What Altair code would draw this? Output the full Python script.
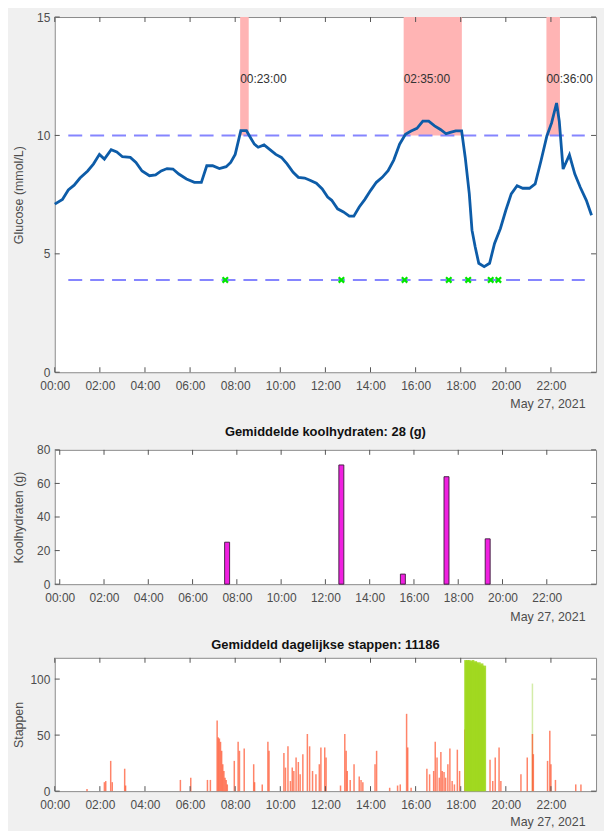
import altair as alt
import pandas as pd

# ---------------- data ----------------
glucose_hours = [0.00, 0.34, 0.60, 0.86, 1.12, 1.46, 1.72, 1.98, 2.20, 2.50,
                 2.75, 3.00, 3.35, 3.60, 3.87, 4.20, 4.47, 4.72, 4.98, 5.24,
                 5.50, 5.84, 6.19, 6.50, 6.74, 7.00, 7.30, 7.60, 7.80, 8.00,
                 8.25, 8.50, 8.68, 8.85, 9.02, 9.28, 9.54, 9.80, 10.05, 10.30,
                 10.57, 10.80, 11.08, 11.34, 11.60, 11.86, 12.10, 12.28, 12.54, 12.80,
                 13.06, 13.26, 13.50, 13.75, 14.00, 14.26, 14.52, 14.78, 15.03, 15.29,
                 15.55, 15.80, 16.06, 16.32, 16.58, 16.84, 17.10, 17.35, 17.50, 17.78,
                 18.04, 18.20, 18.38, 18.50, 18.64, 18.80, 19.04, 19.28, 19.50, 19.76,
                 20.00, 20.24, 20.50, 20.75, 21.05, 21.30, 21.56, 21.82, 22.03, 22.25,
                 22.37, 22.54, 22.82, 23.06, 23.30, 23.57, 23.80]
glucose_values = [7.10, 7.30, 7.70, 7.90, 8.20, 8.50, 8.80, 9.20, 9.00, 9.40,
                  9.30, 9.10, 9.07, 8.86, 8.50, 8.30, 8.33, 8.50, 8.60, 8.58,
                  8.37, 8.16, 8.02, 8.02, 8.72, 8.72, 8.60, 8.68, 8.86, 9.20,
                  10.20, 10.20, 9.90, 9.63, 9.50, 9.60, 9.40, 9.20, 9.07, 8.80,
                  8.44, 8.23, 8.20, 8.10, 7.98, 7.74, 7.40, 7.26, 6.90, 6.77,
                  6.59, 6.59, 6.98, 7.30, 7.67, 8.02, 8.23, 8.51, 8.96, 9.63,
                  10.05, 10.19, 10.30, 10.60, 10.60, 10.40, 10.25, 10.07, 10.12, 10.19,
                  10.19, 9.07, 7.53, 6.00, 5.30, 4.60, 4.46, 4.60, 5.44, 6.07,
                  6.84, 7.53, 7.88, 7.77, 7.77, 7.95, 8.93, 9.98, 10.53, 11.37,
                  10.60, 8.58, 9.18, 8.37, 7.81, 7.26, 6.63]

high_span_start = [8.22, 15.47, 21.80]
high_span_end = [8.60, 18.05, 22.40]
high_span_label = ["00:23:00", "02:35:00", "00:36:00"]
high_limit = 10.0
glucose_top = 15.0
label_level = 12.4

thresholds = [10.0, 3.9]
threshold_from = 0.6
threshold_to = 23.5

meal_marker_hours = [7.56, 12.71, 15.51, 17.47, 18.33, 19.33, 19.67]
meal_marker_level = 3.9

carb_hours = [7.56, 12.72, 15.50, 17.47, 19.33]
carb_grams = [25, 71, 6, 64, 27]

steps_red_hours = [1.43, 2.20, 2.26, 2.48, 2.55, 3.10, 3.14, 5.57, 6.03, 6.77,
                   6.90, 7.20, 7.25, 7.30, 7.35, 7.40, 7.45, 7.50, 7.55, 7.60,
                   7.65, 7.96, 8.13, 8.19, 8.40, 8.82, 8.86, 9.20, 9.45, 9.50,
                   10.16, 10.23, 10.34, 10.45, 10.53, 10.60, 10.70, 10.80, 10.88, 11.00,
                   11.20, 11.30, 11.43, 11.58, 11.73, 11.80, 11.97, 12.03, 12.67, 12.86,
                   12.92, 12.97, 13.10, 13.27, 13.50, 13.58, 13.66, 14.20, 14.27, 14.85,
                   15.20, 15.32, 15.60, 15.65, 15.80, 16.50, 16.62, 16.80, 16.87, 16.95,
                   17.05, 17.12, 17.18, 17.26, 17.33, 17.43, 17.52, 17.62, 17.72, 17.85,
                   17.95, 18.18, 19.30, 19.42, 19.53, 19.70, 19.78, 20.67, 20.95, 21.18,
                   21.22, 21.85, 21.95, 22.00, 22.20, 23.10, 23.33]
steps_red_values = [2, 8, 9, 27, 8, 20, 5, 10, 12, 10,
                    10, 63, 48, 47, 44, 36, 24, 18, 12, 10,
                    6, 27, 44, 36, 38, 24, 8, 6, 44, 36,
                    34, 21, 40, 9, 21, 18, 30, 26, 15, 33,
                    51, 40, 18, 15, 24, 39, 39, 30, 5, 51,
                    36, 18, 10, 24, 13, 10, 8, 24, 36, 3,
                    5, 6, 69, 39, 3, 20, 15, 18, 44, 30,
                    12, 35, 18, 17, 12, 24, 38, 9, 6, 37,
                    18, 55, 28, 9, 30, 39, 9, 15, 30, 51,
                    33, 27, 54, 24, 10, 6, 6]

steps_green_hours = [18.22, 18.26, 18.30, 18.34, 18.38, 18.42, 18.46, 18.50, 18.54, 18.58,
                     18.62, 18.66, 18.70, 18.74, 18.78, 18.82, 18.86, 18.90, 18.94, 18.98,
                     19.02, 19.06]
steps_green_values = [117, 116, 117, 115, 117, 116, 114, 116, 117, 115,
                      113, 116, 115, 114, 112, 115, 113, 111, 114, 112,
                      110, 112]
steps_faint_hours = [21.18]
steps_faint_values = [96]

x_tick_hours = [0, 2, 4, 6, 8, 10, 12, 14, 16, 18, 20, 22]
glucose_ticks = [0, 5, 10, 15]
carb_ticks = [0, 20, 40, 60, 80]
steps_ticks = [0, 50, 100]

date_text = "May 27, 2021"
carb_title = "Gemiddelde koolhydraten: 28 (g)"
steps_title = "Gemiddeld dagelijkse stappen: 11186"

# ---------------- layout / style ----------------
W = 544
H1, H2, H3 = 357, 135, 134
FONT = "Liberation Sans"
GREY = "#4d4d4d"
TICK = "#555555"

XS = alt.Scale(domain=[0, 24], nice=False, zero=False)
label_expr = "(datum.value < 10 ? '0' : '') + datum.value + ':00'"


def x_axis(ty):
    return alt.Axis(values=x_tick_hours, labelExpr=label_expr, title=date_text,
                    titleX=W - 11, titleY=ty, titleAlign="right",
                    titleBaseline="middle", titleAnchor="end",
                    domain=False, ticks=False, grid=False, labelPadding=8,
                    labelFlush=False)


def y_axis(title, vals):
    return alt.Axis(values=vals, title=title, titleX=-36, titleBaseline="middle",
                    domain=False, ticks=False, grid=False, labelPadding=5)


def frame_ticks(H, ys, ytitle, yvals, ty):
    xt = alt.Chart(pd.DataFrame({"h": x_tick_hours}))
    yt = alt.Chart(pd.DataFrame({"v": yvals}))
    xe = alt.X("h:Q", scale=XS, axis=x_axis(ty))
    ye = alt.Y("v:Q", scale=ys, axis=y_axis(ytitle, yvals))
    bottom = xt.mark_rule(color=TICK, strokeWidth=1).encode(
        x=xe, y=alt.value(H), y2=alt.value(H - 5))
    top = xt.mark_rule(color=TICK, strokeWidth=1).encode(
        x=xe, y=alt.value(0), y2=alt.value(5))
    left = yt.mark_rule(color=TICK, strokeWidth=1).encode(
        y=ye, x=alt.value(0), x2=alt.value(5))
    right = yt.mark_rule(color=TICK, strokeWidth=1).encode(
        y=ye, x=alt.value(W), x2=alt.value(W - 5))
    return [bottom, top, left, right]


# ---------------- panel 1: glucose ----------------
TY1, TY2, TY3 = 31, 33, 31
YS1 = alt.Scale(domain=[0, 15], nice=False)
yt1 = "Glucose (mmol/L)"
X1 = lambda f: alt.X(f, scale=XS, axis=x_axis(TY1))
Y1 = lambda f: alt.Y(f, scale=YS1, axis=y_axis(yt1, glucose_ticks))

span_df = pd.DataFrame({"s": high_span_start, "e": high_span_end,
                        "lab": high_span_label,
                        "lo": [high_limit] * len(high_span_start),
                        "hi": [glucose_top] * len(high_span_start),
                        "ly": [label_level] * len(high_span_start)})
spans = alt.Chart(span_df).mark_rect(color="#ffb4b4").encode(
    x=X1("s:Q"), x2="e:Q", y=Y1("lo:Q"), y2="hi:Q")

thr_df = pd.DataFrame({"y": thresholds,
                       "a": [threshold_from] * len(thresholds),
                       "b": [threshold_to] * len(thresholds)})
thr = alt.Chart(thr_df).mark_rule(color="#8585ff", strokeWidth=2,
                                  strokeDash=[14, 8]).encode(
    x=X1("a:Q"), x2="b:Q", y=Y1("y:Q"))

gl_df = pd.DataFrame({"h": glucose_hours, "g": glucose_values})
line = alt.Chart(gl_df).mark_line(color="#0d5ca8", strokeWidth=2.8).encode(
    x=X1("h:Q"), y=Y1("g:Q"))

labels = alt.Chart(span_df).mark_text(align="left", baseline="middle",
                                      font=FONT, fontSize=12, color="#333333").encode(
    x=X1("s:Q"), y=Y1("ly:Q"), text="lab:N")

mk_df = pd.DataFrame({"h": meal_marker_hours,
                      "y": [meal_marker_level] * len(meal_marker_hours)})
markers = alt.Chart(mk_df).mark_point(
    shape="M-1,-1L1,1M-1,1L1,-1", size=30, filled=False,
    stroke="#00e600", strokeWidth=2.2, opacity=1).encode(
    x=X1("h:Q"), y=Y1("y:Q"))

p1 = alt.layer(spans, thr, line, labels, markers,
               *frame_ticks(H1, YS1, yt1, glucose_ticks, TY1)).properties(width=W, height=H1)

# ---------------- panel 2: carbs ----------------
YS2 = alt.Scale(domain=[0, 80], nice=False)
yt2 = "Koolhydraten (g)"
carb_df = pd.DataFrame({"h": carb_hours, "c": carb_grams})
bars = alt.Chart(carb_df).mark_bar(size=5, color="#f020e0", stroke="#3a1a3a",
                                   strokeWidth=0.9).encode(
    x=alt.X("h:Q", scale=XS, axis=x_axis(TY2)),
    y=alt.Y("c:Q", scale=YS2, axis=y_axis(yt2, carb_ticks)))
p2 = alt.layer(bars, *frame_ticks(H2, YS2, yt2, carb_ticks, TY2)).properties(
    width=W, height=H2, title=carb_title)

# ---------------- panel 3: steps ----------------
YS3 = alt.Scale(domain=[0, 119], nice=False)
yt3 = "Stappen"
red_df = pd.DataFrame({"h": steps_red_hours, "s": steps_red_values})
green_df = pd.DataFrame({"h": steps_green_hours, "s": steps_green_values})
faint_df = pd.DataFrame({"h": steps_faint_hours, "s": steps_faint_values})


def step_rules(df, color, width, op):
    return alt.Chart(df).mark_rule(color=color, strokeWidth=width, opacity=op).encode(
        x=alt.X("h:Q", scale=XS, axis=x_axis(TY3)),
        y=alt.Y("s:Q", scale=YS3, axis=y_axis(yt3, steps_ticks)),
        y2=alt.datum(0))


faint = step_rules(faint_df, "#b8e070", 1.5, 0.6)
red = step_rules(red_df, "#ff4a22", 1.5, 0.68)
green = step_rules(green_df, "#a0d820", 3, 0.88)
p3 = alt.layer(faint, red, green, *frame_ticks(H3, YS3, yt3, steps_ticks, TY3)).properties(
    width=W, height=H3, title=steps_title)

chart = alt.vconcat(p1, p2, p3, spacing=15).properties(
    background="#f0f0f0",
    padding={"left": 4, "top": 0, "right": 6, "bottom": 0},
).configure_view(
    fill="white", stroke="#8a8a8a", strokeWidth=1
).configure_axis(
    labelFont=FONT, labelFontSize=12, labelColor=GREY,
    titleFont=FONT, titleFontSize=12.5, titleColor=GREY, titleFontWeight="normal"
).configure_title(
    font=FONT, fontSize=13, fontWeight="bold", color="#111111", offset=5
)

chart.save("out.html", embed_options={"renderer": "svg", "actions": False})
